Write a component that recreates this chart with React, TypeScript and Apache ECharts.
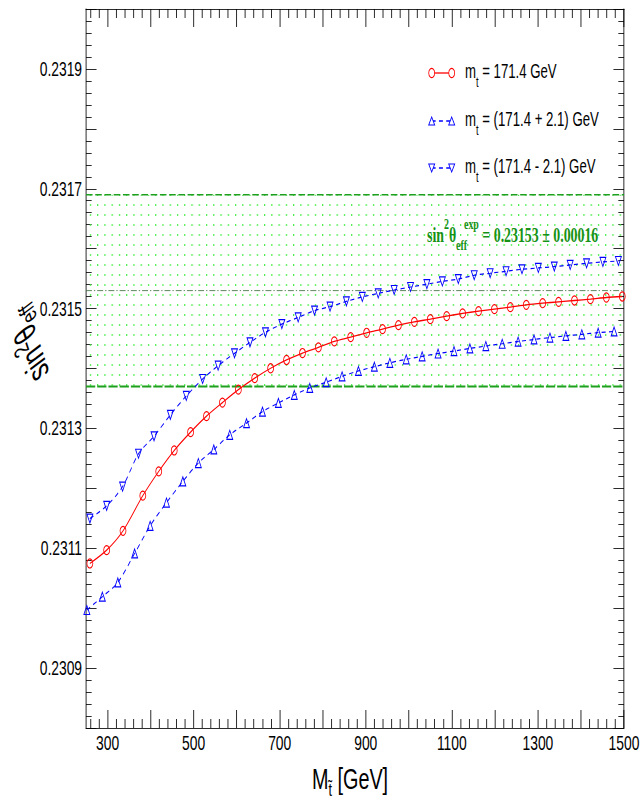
import React, { useEffect, useRef } from 'react';
import * as echarts from 'echarts';

// horizontal squeeze of the whole figure (reference is a narrowed ROOT canvas)
const INNER_W = 973;
const S = 642 / INNER_W;

const X_MIN = 250;
const X_MAX = 1500;
const Y_MIN = 0.2308;
const Y_MAX = 0.232;

const X_LABELS = [300, 500, 700, 900, 1100, 1300, 1500];
const X_MAJOR_TICKS = [300, 400, 500, 600, 700, 800, 900, 1000, 1100, 1200, 1300, 1400, 1500];
const X_MINOR_TICKS = [260, 280, 320, 340, 360, 380, 420, 440, 460, 480, 520, 540, 560, 580, 620, 640, 660, 680, 720, 740, 760, 780, 820, 840, 860, 880, 920, 940, 960, 980, 1020, 1040, 1060, 1080, 1120, 1140, 1160, 1180, 1220, 1240, 1260, 1280, 1320, 1340, 1360, 1380, 1420, 1440, 1460, 1480];

const EXP_CENTER = 0.23153;
const EXP_ERR = 0.00016;

// m_t = 171.4 GeV
const massCentral = [259, 298, 336, 382, 419, 455, 493, 530, 567, 604, 642, 679, 716, 753, 790, 827, 865, 902, 939, 976, 1013, 1050, 1088, 1125, 1162, 1199, 1236, 1273, 1311, 1348, 1385, 1422, 1459, 1496];
const sinCentral = [0.2310746, 0.2310968, 0.231129, 0.2311878, 0.2312283, 0.2312632, 0.2312938, 0.2313205, 0.2313431, 0.2313647, 0.231384, 0.2314004, 0.2314142, 0.2314258, 0.2314353, 0.2314453, 0.2314524, 0.2314596, 0.2314658, 0.2314724, 0.2314779, 0.2314824, 0.2314874, 0.2314919, 0.2314957, 0.231499, 0.2315024, 0.2315062, 0.231509, 0.2315112, 0.2315135, 0.2315157, 0.2315185, 0.2315202];

// m_t = (171.4 + 2.1) GeV
const massPlus = [252, 288, 324, 363, 399, 437, 475, 511, 547, 584, 623, 660, 697, 734, 770, 808, 845, 883, 920, 956, 994, 1031, 1068, 1105, 1142, 1179, 1217, 1254, 1291, 1328, 1365, 1402, 1440, 1477];
const sinPlus = [0.2309969, 0.2310192, 0.231043, 0.2310913, 0.2311374, 0.2311762, 0.2312116, 0.2312422, 0.2312649, 0.2312893, 0.2313088, 0.231328, 0.2313426, 0.2313559, 0.2313676, 0.2313771, 0.231387, 0.2313959, 0.231403, 0.2314095, 0.2314153, 0.2314203, 0.231425, 0.2314291, 0.2314335, 0.2314375, 0.2314413, 0.231445, 0.2314485, 0.2314516, 0.2314544, 0.2314571, 0.2314598, 0.2314619];

// m_t = (171.4 - 2.1) GeV
const massMinus = [259, 298, 335, 372, 408, 446, 483, 521, 557, 595, 631, 667, 705, 743, 781, 817, 855, 892, 929, 966, 1004, 1042, 1078, 1115, 1152, 1189, 1226, 1263, 1301, 1338, 1375, 1413, 1451, 1487];
const sinMinus = [0.2311495, 0.2311707, 0.2312028, 0.2312577, 0.2312868, 0.2313226, 0.2313542, 0.2313825, 0.2314047, 0.2314253, 0.2314436, 0.2314603, 0.2314741, 0.2314852, 0.2314966, 0.2315032, 0.231512, 0.2315194, 0.2315253, 0.231531, 0.231536, 0.2315407, 0.2315453, 0.2315493, 0.2315556, 0.231559, 0.2315623, 0.2315656, 0.2315678, 0.2315701, 0.2315728, 0.2315756, 0.2315778, 0.2315794];

const LEGEND_LABELS = [' = 171.4 GeV', ' = (171.4 + 2.1) GeV', ' = (171.4 - 2.1) GeV'];

const SANS = '"Liberation Sans", Arial, Helvetica, sans-serif';
const SERIF = '"Liberation Serif", "Times New Roman", serif';
const RED = '#ff0000';
const BLUE = '#0000ff';
const GREEN = '#1f9f1f';
const LABEL_GREEN = '#159215';

const X = (outer: number) => outer / S; // outer pixel -> inner pixel

function pairs(xs: number[], ys: number[]) {
  return xs.map((x, i) => [x, ys[i]]);
}

function tok(o: any) {
  return { ...o, fill: o.color };
}

export default function App() {
  const ref = useRef<HTMLDivElement>(null);

  useEffect(() => {
    if (!ref.current) return;
    const chart = echarts.init(ref.current, null, { renderer: 'svg' });

    const tile = document.createElement('canvas');
    tile.width = 11;
    tile.height = 10;
    const ctx = tile.getContext('2d');
    if (ctx) {
      ctx.fillStyle = '#4cee4c';
      ctx.fillRect(4, 4, 2, 2);
    }

    const mainSmall = tok({ fontFamily: SANS, fontSize: 20, lineHeight: 34, verticalAlign: 'middle', color: '#000' });
    const subSmall = tok({ fontFamily: SANS, fontSize: 14, lineHeight: 14, verticalAlign: 'bottom', color: '#000' });

    const legendRows = [
      { y: 73, color: RED, sym: 'circle', dash: false },
      { y: 121, color: BLUE, sym: 'up', dash: true },
      { y: 168, color: BLUE, sym: 'down', dash: true },
    ];
    const legendEls: any[] = [];
    legendRows.forEach((r, i) => {
      const x1 = X(431.7), x2 = X(451.7);
      legendEls.push({
        type: 'line', shape: { x1, y1: r.y, x2, y2: r.y },
        style: { stroke: r.color, lineWidth: 1.3, lineDash: r.dash ? [6, 5] : null },
      });
      [x1, x2].forEach((cx) => {
        if (r.sym === 'circle') {
          legendEls.push({ type: 'circle', shape: { cx, cy: r.y, r: 4.5 }, style: { fill: '#fff', stroke: r.color, lineWidth: 1.2 } });
        } else {
          const h = 4;
          const pts = r.sym === 'up'
            ? [[cx, r.y - h], [cx + 4.5, r.y + h], [cx - 4.5, r.y + h]]
            : [[cx, r.y + h], [cx + 4.5, r.y - h], [cx - 4.5, r.y - h]];
          legendEls.push({ type: 'polygon', shape: { points: pts }, style: { fill: '#fff', stroke: r.color, lineWidth: 1.2 } });
        }
      });
      legendEls.push({
        type: 'text', x: X(465), y: r.y - 1,
        style: {
          text: '{m|m}{s|t}{m|' + LEGEND_LABELS[i] + '}',
          rich: { m: mainSmall, s: subSmall },
          textAlign: 'left', align: 'left', textVerticalAlign: 'middle', verticalAlign: 'middle',
        },
      });
    });

    const gMain = tok({ fontFamily: SERIF, fontWeight: 'bold', fontSize: 21, lineHeight: 36, verticalAlign: 'middle', color: LABEL_GREEN });
    const gSup = tok({ fontFamily: SERIF, fontWeight: 'bold', fontSize: 15, lineHeight: 15, verticalAlign: 'top', color: LABEL_GREEN });
    const gSub = tok({ fontFamily: SERIF, fontWeight: 'bold', fontSize: 15, lineHeight: 15, verticalAlign: 'bottom', color: LABEL_GREEN, width: 12 });
    const bandLabel = {
      type: 'text', x: X(427), y: 235, z: 20,
      style: {
        text: '{m|sin}{p|2}{m|θ}{b|eff}{p|exp}{m| = ' + EXP_CENTER.toFixed(5) + ' ± ' + EXP_ERR.toFixed(5) + '}',
        rich: { m: gMain, p: gSup, b: gSub },
        fill: LABEL_GREEN,
        textAlign: 'left', align: 'left', textVerticalAlign: 'middle', verticalAlign: 'middle',
      },
    };

    // y-axis title, rotated (reads bottom to top), drawn thicker across the axis as in the reference
    const yTitle = {
      type: 'group', x: X(28.5), y: 345, rotation: 90, z: 20,
      children: [
        {
          type: 'text', x: 0, y: 0, scaleX: 1, scaleY: 1.8,
          style: {
            text: '{m|sin}{p|2}{m|θ}{b|eff}',
            rich: {
              m: tok({ fontFamily: SANS, fontSize: 26, lineHeight: 32, verticalAlign: 'middle', color: '#000' }),
              p: tok({ fontFamily: SANS, fontSize: 18, lineHeight: 15, verticalAlign: 'top', color: '#000' }),
              b: tok({ fontFamily: SANS, fontSize: 18, lineHeight: 19, verticalAlign: 'bottom', color: '#000' }),
            },
            fill: '#000',
            textAlign: 'center', align: 'center', textVerticalAlign: 'middle', verticalAlign: 'middle',
          },
        },
      ],
    };

    const axisLineStyle = { color: '#000', width: 1 };
    const xBase = {
      type: 'value', min: X_MIN, max: X_MAX, splitLine: { show: false },
    };
    const yBase = {
      type: 'value', min: Y_MIN, max: Y_MAX, interval: 0.0001, splitLine: { show: false }, minorSplitLine: { show: false },
      axisLine: { show: true, lineStyle: axisLineStyle },
      axisTick: { show: true, inside: true, length: 16, lineStyle: axisLineStyle },
      minorTick: { show: true, splitNumber: 5, length: 8.6, lineStyle: axisLineStyle },
    };

    const bandLine = (v: number, color: string, width: number, dash: number[]) => ({
      type: 'line', xAxisIndex: 0, yAxisIndex: 0, z: 3, silent: true,
      data: [[X_MIN, v], [X_MAX, v]], symbol: 'none',
      lineStyle: { color, width, type: dash },
    });

    const option: any = {
      animation: false,
      backgroundColor: '#fff',
      grid: { left: X(86), right: INNER_W - X(624), top: 9, bottom: 73, containLabel: false },
      xAxis: [
        {
          ...xBase, position: 'bottom',
          axisLine: { show: true, onZero: false, lineStyle: axisLineStyle },
          axisTick: { show: true, inside: true, length: 18, customValues: X_MAJOR_TICKS, lineStyle: axisLineStyle },
          axisLabel: { show: true, customValues: X_LABELS, fontFamily: SANS, fontSize: 21, color: '#000', margin: 4, formatter: (v: number) => String(v) },
          name: '{m|M}{s|t\u0303}{m| [GeV]}',
          nameLocation: 'middle', nameGap: 30,
          nameTextStyle: {
            padding: [0, 15, 0, 0],
            rich: {
              m: { fontFamily: SANS, fontSize: 30, lineHeight: 40, verticalAlign: 'middle', color: '#000' },
              s: { fontFamily: SANS, fontSize: 19, lineHeight: 18, verticalAlign: 'bottom', color: '#000' },
            },
          },
        },
        {
          ...xBase, position: 'bottom',
          axisLine: { show: false, onZero: false },
          axisTick: { show: true, inside: true, length: 9, customValues: X_MINOR_TICKS, lineStyle: axisLineStyle },
          axisLabel: { show: false },
        },
        {
          ...xBase, position: 'top',
          axisLine: { show: true, onZero: false, lineStyle: axisLineStyle },
          axisTick: { show: true, inside: true, length: 18, customValues: X_MAJOR_TICKS, lineStyle: axisLineStyle },
          axisLabel: { show: false },
        },
        {
          ...xBase, position: 'top',
          axisLine: { show: false, onZero: false },
          axisTick: { show: true, inside: true, length: 9, customValues: X_MINOR_TICKS, lineStyle: axisLineStyle },
          axisLabel: { show: false },
        },
      ],
      yAxis: [
        {
          ...yBase, position: 'left',
          axisLabel: {
            show: true, fontFamily: SANS, fontSize: 21, color: '#000', margin: 6,
            formatter: (v: number) => {
              const k = Math.round(v * 10000);
              return k % 2 === 1 ? (k / 10000).toFixed(4) : '';
            },
          },
        },
        { ...yBase, position: 'right', axisLabel: { show: false } },
      ],
      series: [
        {
          type: 'line', name: 'm_t = 171.4 GeV', xAxisIndex: 0, yAxisIndex: 0,
          data: pairs(massCentral, sinCentral),
          smooth: 0.3, showAllSymbol: true, symbol: 'circle', symbolSize: 9, z: 5,
          lineStyle: { color: RED, width: 1.3 },
          itemStyle: { color: 'rgba(255,255,255,0)', borderColor: RED, borderWidth: 1.2 },
          markArea: {
            silent: true,
            itemStyle: { color: { image: tile, repeat: 'repeat', imageWidth: 11, imageHeight: 10 } },
            data: [[{ xAxis: X_MIN, yAxis: EXP_CENTER - EXP_ERR }, { xAxis: X_MAX, yAxis: EXP_CENTER + EXP_ERR }]],
          },
        },
        {
          type: 'line', name: 'm_t = (171.4 + 2.1) GeV', xAxisIndex: 0, yAxisIndex: 0,
          data: pairs(massPlus, sinPlus),
          smooth: 0.3, showAllSymbol: true, symbol: 'triangle', symbolSize: 9, z: 6,
          lineStyle: { color: BLUE, width: 1.2, type: [6, 5] },
          itemStyle: { color: 'rgba(255,255,255,0)', borderColor: BLUE, borderWidth: 1.2 },
        },
        {
          type: 'line', name: 'm_t = (171.4 - 2.1) GeV', xAxisIndex: 0, yAxisIndex: 0,
          data: pairs(massMinus, sinMinus),
          smooth: 0.3, showAllSymbol: true, symbol: 'triangle', symbolRotate: 180, symbolSize: 9, z: 6,
          lineStyle: { color: BLUE, width: 1.2, type: [6, 5] },
          itemStyle: { color: 'rgba(255,255,255,0)', borderColor: BLUE, borderWidth: 1.2 },
        },
        bandLine(EXP_CENTER + EXP_ERR, GREEN, 1.5, [10, 4]),
        bandLine(EXP_CENTER, '#3d6e3d', 1, [9, 3, 2, 3]),
        bandLine(EXP_CENTER - EXP_ERR, GREEN, 2, [14, 3]),
      ],
      graphic: [...legendEls, bandLabel, yTitle],
    };

    chart.setOption(option);
    return () => chart.dispose();
  }, []);

  return (
    <div style={{ position: 'absolute', left: 0, top: 0, width: 642, height: 803, overflow: 'hidden', background: '#fff' }}>
      <div
        ref={ref}
        style={{ width: INNER_W, height: 803, transform: `scaleX(${S})`, transformOrigin: '0 0' }}
      />
    </div>
  );
}
